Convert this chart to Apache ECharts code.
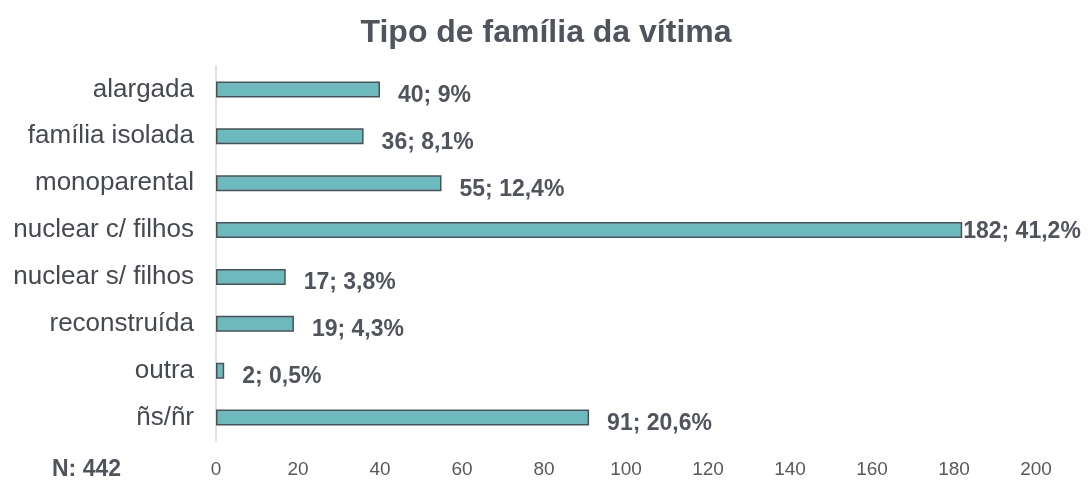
<!DOCTYPE html>
<html>
<head>
<meta charset="utf-8">
<script src="https://cdn.jsdelivr.net/npm/echarts@6/dist/echarts.min.js"></script>
<style>
  html, body { margin: 0; padding: 0; background: #fff; }
  #main { width: 1088px; height: 482px; }
</style>
</head>
<body>
<div id="main"></div>
<script>
// dados
var categorias = ['alargada', 'família isolada', 'monoparental', 'nuclear c/ filhos',
  'nuclear s/ filhos', 'reconstruída', 'outra', 'ñs/ñr'];
var valores = [40, 36, 55, 182, 17, 19, 2, 91];
var percentagens = ['9', '8,1', '12,4', '41,2', '3,8', '4,3', '0,5', '20,6'];
var ticksX = [0, 20, 40, 60, 80, 100, 120, 140, 160, 180, 200];

var chart = echarts.init(document.getElementById('main'));

var dados = valores.map(function (v, i) {
  var item = { value: v };
  if (v === 182) {
    item.label = { distance: 1, offset: [0, 2] };
  }
  return item;
});

var option = {
  animation: false,
  title: {
    text: 'Tipo de família da vítima',
    left: 541,
    textAlign: 'center',
    top: 12,
    textStyle: { fontFamily: 'Liberation Sans', fontSize: 32, fontWeight: 'bold', color: '#50545c' }
  },
  graphic: [{
    type: 'text',
    left: 52,
    top: 458,
    style: { text: 'N: 442', font: 'bold 23px "Liberation Sans"', fill: '#50545c' }
  }],
  grid: { left: 216, right: 52, top: 66, bottom: 41, containLabel: false },
  xAxis: {
    type: 'value',
    min: ticksX[0],
    max: ticksX[ticksX.length - 1],
    interval: 20,
    axisLine: { show: false },
    axisTick: { show: false },
    splitLine: { show: false },
    axisLabel: {
      margin: 19,
      fontFamily: 'Liberation Sans',
      fontSize: 19,
      color: '#595959'
    }
  },
  yAxis: {
    type: 'category',
    data: categorias,
    inverse: true,
    axisLine: { show: true, lineStyle: { color: '#d9d9d9', width: 1.5 } },
    axisTick: { show: false },
    axisLabel: {
      margin: 22,
      fontFamily: 'Liberation Sans',
      fontSize: 26,
      color: '#454950'
    }
  },
  series: [{
    type: 'bar',
    data: dados,
    barWidth: 16,
    itemStyle: { color: '#6cb9be', borderColor: '#4b5059', borderWidth: 1.5 },
    label: {
      show: true,
      position: 'right',
      distance: 18,
      offset: [0, 6],
      fontFamily: 'Liberation Sans',
      fontSize: 23,
      fontWeight: 'bold',
      color: '#50545c',
      formatter: function (p) { return p.value + '; ' + percentagens[p.dataIndex] + '%'; }
    }
  }]
};

chart.setOption(option);
</script>
</body>
</html>
